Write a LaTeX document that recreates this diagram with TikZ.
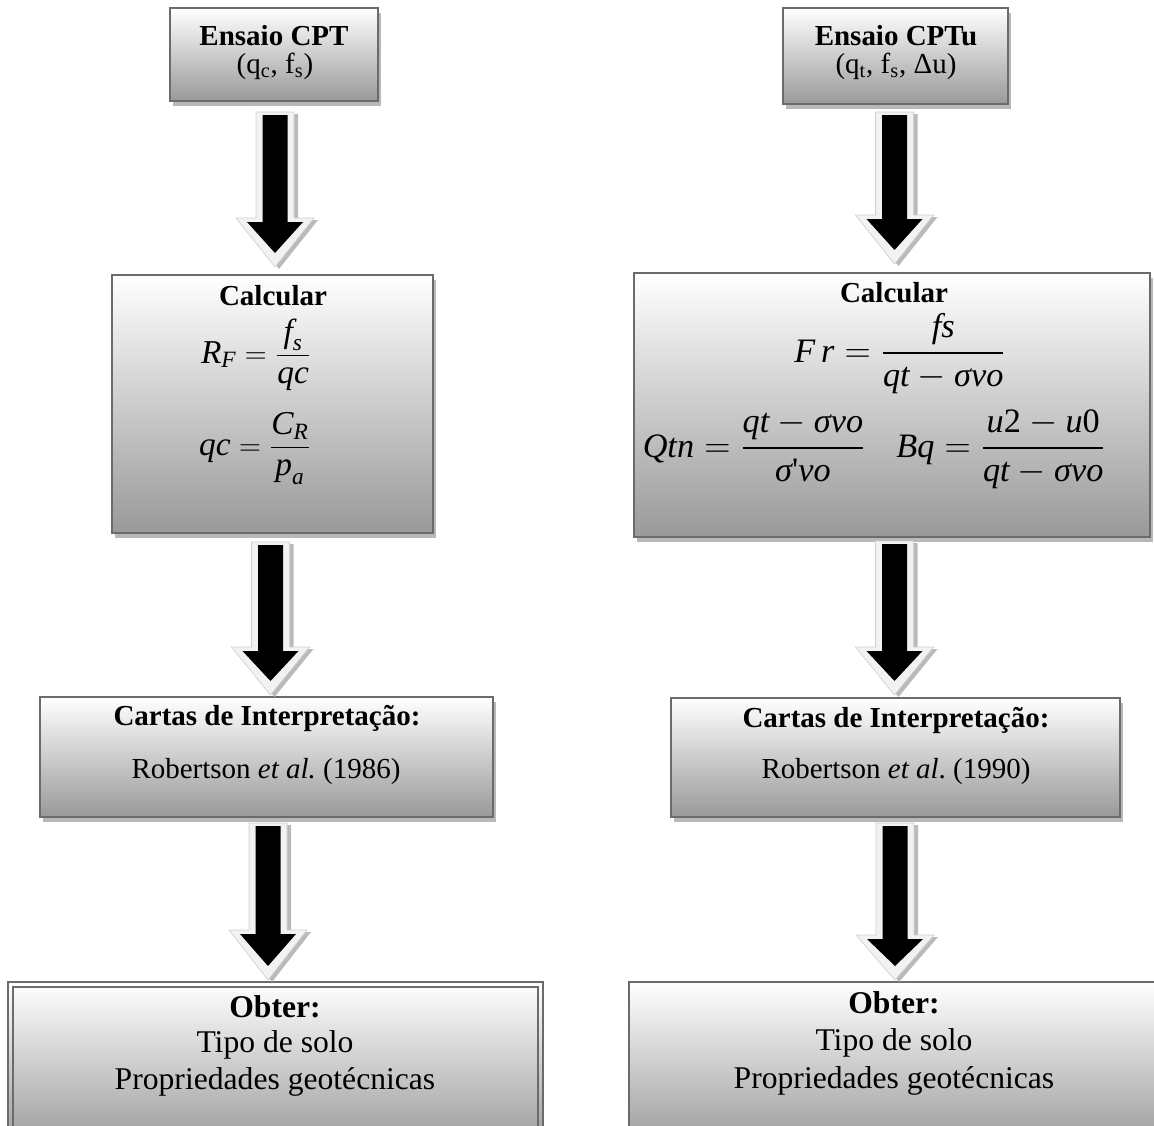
\documentclass[tikz,border=0pt]{standalone}
\usepackage{amsmath}
\usepackage{fontspec}
\setmainfont{Liberation Serif}
\usetikzlibrary{fit,shadows}
\newcommand\myit[1]{\text{\itshape #1}}
\newcommand\blockarrow[4]{%
  \begin{scope}[shift={(#1,0)}]
    \fill[black!27] (-15,#2+2) -- (23,#2+2) -- (23,#3+2) -- (43,#3+2) -- (4,#4+2) -- (-35,#3+2) -- (-15,#3+2) -- cycle;
    \filldraw[fill=black!5, draw=black!18, line width=0.4pt] (-19,#2) -- (19,#2) -- (19,#3) -- (39,#3) -- (0,#4) -- (-39,#3) -- (-19,#3) -- cycle;
    \fill[black] (-12.5,#2+3) -- (12.5,#2+3) -- (12.5,#3+4) -- (28,#3+4) -- (0,#4-14) -- (-28,#3+4) -- (-12.5,#3+4) -- cycle;
  \end{scope}}
\tikzset{
  x=0.02cm, y=-0.02cm,
  boxfill/.style={draw=black!58, line width=1.1pt, top color=white, bottom color=black!40, inner sep=0pt},
  box/.style={boxfill, drop shadow={shadow xshift=1.7pt, shadow yshift=-2.8pt, fill=black!28, opacity=1}},
  txt/.style={anchor=base, inner sep=0pt, font=\fontsize{16.5}{20}\selectfont},
  txtb/.style={anchor=base, inner sep=0pt, font=\fontsize{16.5}{20}\selectfont\bfseries},
  big/.style={anchor=base, inner sep=0pt, font=\fontsize{18}{22}\selectfont},
  bigb/.style={anchor=base, inner sep=0pt, font=\fontsize{18}{22}\selectfont\bfseries},
  mathL/.style={anchor=base, inner sep=0pt, font=\fontsize{19}{23}\selectfont},
  mathR/.style={anchor=base, inner sep=0pt, font=\fontsize{19.5}{23}\selectfont},
}
\begin{document}
\begin{tikzpicture}
\useasboundingbox[fill=white] (0,0) rectangle (1154,1126);

% ---------- boxes ----------
\coordinate (c1a) at (170,8);   \coordinate (c1b) at (378,101);
\coordinate (c2a) at (783,8);   \coordinate (c2b) at (1008,104);
\coordinate (c3a) at (112,275); \coordinate (c3b) at (433,533);
\coordinate (c4a) at (634,273); \coordinate (c4b) at (1150,537);
\coordinate (c5a) at (40,697);  \coordinate (c5b) at (493,817);
\coordinate (c6a) at (671,698); \coordinate (c6b) at (1120,817);
\coordinate (c7a) at (8,982);   \coordinate (c7b) at (543,1150);
\coordinate (c7c) at (13,987);  \coordinate (c7d) at (538,1150);
\coordinate (c8a) at (629,982); \coordinate (c8b) at (1170,1150);

\node[box, fit=(c1a)(c1b)] (cpt) {};
\node[box, fit=(c2a)(c2b)] (cptu) {};
\node[box, fit=(c3a)(c3b)] (calcL) {};
\node[box, fit=(c4a)(c4b)] (calcR) {};
\node[box, fit=(c5a)(c5b)] (cartL) {};
\node[box, fit=(c6a)(c6b)] (cartR) {};
\node[boxfill, line width=1pt, fit=(c7a)(c7b)] (obtL) {};
\node[draw=black!58, line width=1pt, inner sep=0pt, fit=(c7c)(c7d)] (obtLi) {};
\node[boxfill, fit=(c8a)(c8b)] (obtR) {};

% ---------- arrows ----------
\blockarrow{275}{112}{218}{267}
\blockarrow{894.5}{112}{215}{264}
\blockarrow{270.5}{542}{647}{695}
\blockarrow{894.5}{541}{647}{695}
\blockarrow{268}{823}{930}{980}
\blockarrow{895}{823}{935}{980}

% ---------- texts ----------
\node[txtb] (t1) at (274,45) {Ensaio CPT};
\node[txt]  (t1b) at (275,73) {(q\textsubscript{c}, f\textsubscript{s})};
\node[txtb] (t2) at (896,45) {Ensaio CPTu};
\node[txt]  (t2b) at (896,73) {(q\textsubscript{t}, f\textsubscript{s}, Δu)};

\node[txtb] (t3) at (273,305) {Calcular};
\node[mathL] (f1) at (256,363) {$\displaystyle \myit{R}_{\myit{F}} = \frac{\myit{f}_{\myit{s}}}{\myit{qc}}$};
\node[mathL] (f2) at (255,455) {$\displaystyle \myit{qc} = \frac{\myit{C}_{\myit{R}}}{\myit{p}_{\myit{a}}}$};

\node[txtb] (t4) at (894,302) {Calcular};
\node[mathR] (f3) at (900,362) {$\displaystyle \myit{F\,r} = \frac{\myit{fs}}{\myit{qt}-\myit{σvo}}$};
\node[mathR] (f4) at (754,457) {$\displaystyle \myit{Qtn} = \frac{\myit{qt}-\myit{σvo}}{\myit{σ}\text{\textquotesingle}\myit{vo}}$};
\node[mathR] (f5) at (1001,457) {$\displaystyle \myit{Bq} = \frac{\myit{u}\text{2}-\myit{u}\text{0}}{\myit{qt}-\myit{σvo}}$};

\node[txtb] (t5) at (267,725) {Cartas de Interpretação:};
\node[txt]  (t5b) at (266,778) {Robertson \textit{et al.}\ (1986)};
\node[txtb] (t6) at (896,727) {Cartas de Interpretação:};
\node[txt]  (t6b) at (896,778) {Robertson \textit{et al}.\ (1990)};

\node[bigb] (t7) at (275,1017) {Obter:};
\node[big]  (t7b) at (275,1052) {Tipo de solo};
\node[big]  (t7c) at (275,1089) {Propriedades geotécnicas};
\node[bigb] (t8) at (894,1013) {Obter:};
\node[big]  (t8b) at (894,1050) {Tipo de solo};
\node[big]  (t8c) at (894,1088) {Propriedades geotécnicas};
\end{tikzpicture}
\end{document}
